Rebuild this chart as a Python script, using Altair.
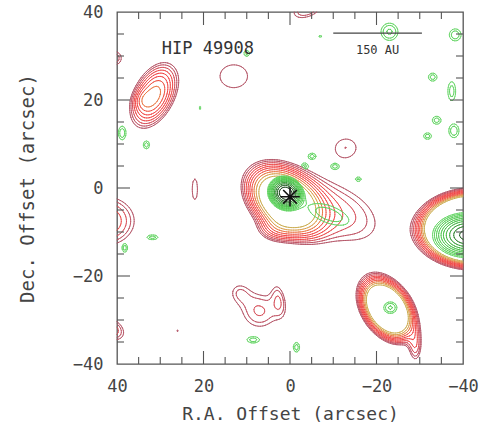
import numpy as np
import pandas as pd
import altair as alt

# ---- emission components read from the map (x=RA offset, y=Dec offset, arcsec)
# columns: centre x, centre y, sigma along angle, sigma across, angle (deg), peak
red_cx  = [31.5, 34.0, 13.0, -13.0, 22.0, 1.0, -11.0, 3.5, -42.5, -22.5, -29.0, 43.0,
           12.0, 2.5, 7.0, 41.5, -4.0, 40.5, 26.0]
red_cy  = [21.0, 20.0, 25.4, 9.3, -0.3, -3.0, -5.5, -9.5, -9.3, -27.5, -36.0, -7.5,
           -23.5, -25.0, -28.0, -32.0, 40.6, 29.5, -32.5]
red_sa  = [4.8, 1.5, 6.0, 3.8, 1.4, 5.0, 9.5, 3.0, 4.7, 3.7, 1.2, 5.4,
           2.2, 1.3, 4.0, 3.0, 3.5, 1.8, 0.5]
red_sb  = [2.8, 1.3, 4.9, 3.2, 5.3, 3.4, 5.5, 2.0, 3.1, 2.45, 3.0, 4.3,
           2.2, 3.5, 3.8, 2.0, 1.8, 1.8, 0.5]
red_ang = [117, 117, 0, 0, 0, 37, 25, 0, 0, 54, 0, 0,
           -30, -10, 0, 30, -20, 0, 0]
red_amp = [4.0, 0.8, 1.15, 1.15, 1.1, 13.0, 1.6, 1.3, 98.0, 20.0, 1.5, 2.3,
           0.9, 0.9, 1.5, 1.8, 1.5, 1.4, 1.1]
red_levels = [1.0, 1.2, 1.45, 1.75, 2.1, 2.5, 3.0, 3.6, 4.3, 5.2]

grn_cx  = [1.0, -3.5, -9.0, -41.0, -23.2, -23.0, -38.2, -33.0, -37.4, -33.9, -37.9, -31.8, -7.0,
           38.8, 33.2, 31.8, 38.2, -5.1, -10.4, -15.8, 8.5, -1.5, 10.0, 20.8]
grn_cy  = [-1.2, 5.0, -6.0, -10.7, -27.2, 35.5, 34.8, 25.2, 22.0, 15.4, 13.0, 11.8, 34.5,
           12.5, 9.8, -11.2, -13.6, 7.2, 4.9, 2.0, -34.5, -36.2, 30.6, 18.2]
grn_sa  = [1.75, 1.0, 5.0, 3.6, 1.4, 1.8, 1.4, 1.1, 1.0, 1.1, 1.2, 1.0, 0.5,
           0.9, 0.8, 1.4, 0.7, 1.0, 1.1, 0.8, 1.6, 0.8, 0.8, 0.5]
grn_sb  = [1.55, 0.7, 2.0, 2.3, 1.2, 1.8, 1.4, 1.0, 2.4, 1.0, 1.6, 0.8, 0.5,
           1.6, 1.0, 0.6, 1.1, 0.8, 0.8, 0.6, 0.8, 1.2, 0.8, 0.5]
grn_ang = [30, 30, 20, 0, 0, 0, 0, 0, 0, 0, 0, 0, 0, 0, 0, 0, 0, 0, 0, 0, 0, 0, 0, 0]
grn_amp = [20.0, 1.4, 1.6, 12.0, 1.8, 1.8, 1.6, 1.5, 1.5, 1.5, 1.6, 1.5, 1.2,
           1.6, 1.5, 1.5, 1.5, 1.5, 1.5, 1.4, 1.5, 1.5, 1.4, 1.2]
grn_levels = [1.0, 1.3, 1.7, 2.2, 2.9, 3.7, 4.8, 6.3, 8.2, 10.6, 13.8]

star_x = [0.0]
star_y = [-2.0]
label_text = ["HIP 49908"]
label_x = [19.0]
label_y = [31.5]
bar_text = ["150 AU"]
bar_x1 = [-10.0]
bar_x2 = [-30.5]
bar_y = [35.2]
bar_text_y = [31.3]
tick_major = [-20, 0, 20]
tick_minor = [-35, -30, -25, -15, -10, -5, 5, 10, 15, 25, 30, 35]
axis_values = [-40, -20, 0, 20, 40]

# ---- build the fields on a grid and trace contours (marching squares)
gx = np.linspace(-40, 40, 201)
gy = np.linspace(-40, 40, 201)
GX, GY = np.meshgrid(gx, gy)


def field(cx, cy, sa, sb, ang, amp):
    Z = np.zeros_like(GX)
    for x0, y0, a, b, t, A in zip(cx, cy, sa, sb, ang, amp):
        th = np.deg2rad(t)
        dx, dy = GX - x0, GY - y0
        u = dx * np.cos(th) + dy * np.sin(th)
        v = -dx * np.sin(th) + dy * np.cos(th)
        Z += A * np.exp(-0.5 * ((u / a) ** 2 + (v / b) ** 2))
    return Z


CASES = {1: [(3, 0)], 2: [(0, 1)], 3: [(3, 1)], 4: [(1, 2)], 5: [(3, 0), (1, 2)],
         6: [(0, 2)], 7: [(3, 2)], 8: [(2, 3)], 9: [(0, 2)], 10: [(0, 1), (2, 3)],
         11: [(1, 2)], 12: [(1, 3)], 13: [(0, 1)], 14: [(3, 0)]}


def contours(Z, levels):
    z0 = Z[:-1, :-1]; z1 = Z[:-1, 1:]; z2 = Z[1:, 1:]; z3 = Z[1:, :-1]
    X0 = GX[:-1, :-1]; X1 = GX[:-1, 1:]; Y0 = GY[:-1, :-1]; Y1 = GY[1:, :-1]
    frames = []
    for k, lev in enumerate(levels):
        code = (z0 > lev) * 1 + (z1 > lev) * 2 + (z2 > lev) * 4 + (z3 > lev) * 8

        def ep(e, m):
            if e == 0:
                t = (lev - z0[m]) / (z1[m] - z0[m])
                return X0[m] + t * (X1[m] - X0[m]), Y0[m]
            if e == 1:
                t = (lev - z1[m]) / (z2[m] - z1[m])
                return X1[m], Y0[m] + t * (Y1[m] - Y0[m])
            if e == 2:
                t = (lev - z2[m]) / (z3[m] - z2[m])
                return X1[m] + t * (X0[m] - X1[m]), Y1[m]
            t = (lev - z3[m]) / (z0[m] - z3[m])
            return X0[m], Y1[m] + t * (Y0[m] - Y1[m])

        for c, pairs in CASES.items():
            m = code == c
            if not m.any():
                continue
            for ea, eb in pairs:
                xa, ya = ep(ea, m)
                xb, yb = ep(eb, m)
                frames.append(pd.DataFrame({"x": xa, "y": ya, "x2": xb, "y2": yb, "k": k}))
    df = pd.concat(frames, ignore_index=True)
    return df.round(2)


red_df = contours(field(red_cx, red_cy, red_sa, red_sb, red_ang, red_amp), red_levels)
grn_df = contours(field(grn_cx, grn_cy, grn_sa, grn_sb, grn_ang, grn_amp), grn_levels)

red_colors = ["#b04e60", "#bc4a5c", "#d44852", "#ea4040", "#f03c3c", "#f04040",
              "#ec4c3c", "#e8703a", "#d89a45", "#c8a848"]
grn_colors = ["#60d460", "#58d058", "#50cc50", "#4ac84a", "#44c444", "#3ebe3e",
              "#38b238", "#2e9a2e", "#247a24", "#1a5a1a", "#103a10"]

FONT = "DejaVu Sans Mono"
xscale = alt.Scale(domain=[-40, 40], reverse=True, nice=False, zero=False)
yscale = alt.Scale(domain=[-40, 40], nice=False, zero=False)
xaxis = alt.Axis(values=axis_values, title="R.A. Offset (arcsec)", ticks=False, domain=False,
                 grid=False, labelFont=FONT, labelFontSize=17, labelColor="#444",
                 labelPadding=14, labelFlush=False, labelOverlap=False,
                 titleFont=FONT, titleFontSize=18, titleFontWeight="normal",
                 titleColor="#444", titleY=50, titleBaseline="middle")
yaxis = alt.Axis(values=axis_values, title="Dec. Offset (arcsec)", ticks=False, domain=False,
                 grid=False, labelFont=FONT, labelFontSize=17, labelColor="#444",
                 labelPadding=14, labelFlush=False, labelOverlap=False, labelBaseline="middle",
                 titleFont=FONT, titleFontSize=19, titleFontWeight="normal",
                 titleColor="#444", titleX=-90, titleY=176, titleBaseline="middle")


def X(f="x"):
    return alt.X(f + ":Q", scale=xscale, axis=xaxis)


def Y(f="y"):
    return alt.Y(f + ":Q", scale=yscale, axis=yaxis)


red = alt.Chart(red_df).mark_rule(strokeWidth=1.0, opacity=0.85, strokeCap="round").encode(
    x=X(), y=Y(), x2="x2", y2="y2",
    color=alt.Color("k:O", scale=alt.Scale(domain=list(range(len(red_levels))), range=red_colors),
                    legend=None))
grn = alt.Chart(grn_df).mark_rule(strokeWidth=1.0, opacity=0.85, strokeCap="round").encode(
    x=X(), y=Y(), x2="x2", y2="y2",
    color=alt.Color("k:O", scale=alt.Scale(domain=list(range(len(grn_levels))), range=grn_colors),
                    legend=None))

star = alt.Chart(pd.DataFrame({"x": star_x, "y": star_y})).mark_point(
    shape="M -1 0 L 1 0 M 0 -1 L 0 1 M -0.7 -0.7 L 0.7 0.7 M -0.7 0.7 L 0.7 -0.7",
    size=380, filled=False, stroke="#111", strokeWidth=1.6, opacity=1).encode(x=X(), y=Y())

label = alt.Chart(pd.DataFrame({"x": label_x, "y": label_y, "t": label_text})).mark_text(
    font=FONT, fontSize=17, color="#333").encode(x=X(), y=Y(), text="t:N")
bar = alt.Chart(pd.DataFrame({"x": bar_x1, "x2": bar_x2, "y": bar_y})).mark_rule(
    color="#444", strokeWidth=1.2).encode(x=X(), x2="x2", y=Y())
bar_lab = alt.Chart(pd.DataFrame({"x": [(a + b) / 2 for a, b in zip(bar_x1, bar_x2)],
                                  "y": bar_text_y, "t": bar_text})).mark_text(
    font=FONT, fontSize=12, color="#333").encode(x=X(), y=Y(), text="t:N")

H, W = 352, 346
TK = "#555"
minor_x = pd.DataFrame({"x": tick_minor})
major_x = pd.DataFrame({"x": tick_major})
minor_y = pd.DataFrame({"y": tick_minor})
major_y = pd.DataFrame({"y": tick_major})
tick_layers = []
for dfx, ln in ((minor_x, 7), (major_x, 13)):
    tick_layers.append(alt.Chart(dfx).mark_rule(color=TK, strokeWidth=1.1).encode(
        x=X(), y=alt.value(H), y2=alt.value(H - ln)))
    tick_layers.append(alt.Chart(dfx).mark_rule(color=TK, strokeWidth=1.1).encode(
        x=X(), y=alt.value(0), y2=alt.value(ln)))
for dfy, ln in ((minor_y, 7), (major_y, 13)):
    tick_layers.append(alt.Chart(dfy).mark_rule(color=TK, strokeWidth=1.1).encode(
        y=Y(), x=alt.value(0), x2=alt.value(ln)))
    tick_layers.append(alt.Chart(dfy).mark_rule(color=TK, strokeWidth=1.1).encode(
        y=Y(), x=alt.value(W), x2=alt.value(W - ln)))

chart = alt.layer(red, grn, star, label, bar, bar_lab, *tick_layers).resolve_scale(
    color="independent"
).properties(
    width=W, height=H,
    autosize=alt.AutoSizeParams(type="none"),
    padding={"left": 117, "top": 12, "right": 21, "bottom": 65},
    background="white",
).configure_view(stroke="#555", strokeWidth=1.3)

chart.save("out.html", embed_options={"renderer": "svg", "actions": False})
